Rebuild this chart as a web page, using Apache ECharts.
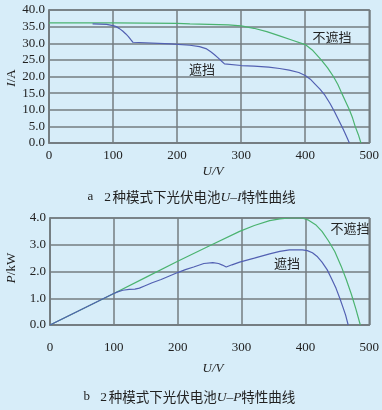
<!DOCTYPE html>
<html>
<head>
<meta charset="utf-8">
<script src="https://cdn.jsdelivr.net/npm/echarts@6/dist/echarts.min.js"></script>
<style>
  html, body { margin: 0; padding: 0; background: #d7edf9; }
  #chart { width: 382px; height: 410px; }
</style>
</head>
<body>
<div id="chart"></div>
<script>
// U-I 曲线 (不遮挡)
const uiUClear = [0, 100, 200, 220, 250, 280, 300, 320, 340, 360, 380, 400, 412, 425, 435, 444, 451, 457, 463, 469, 474, 478, 483, 487];
const uiIClear = [36.1, 36.1, 36.0, 35.8, 35.7, 35.5, 35.2, 34.5, 33.5, 32.2, 30.9, 29.6, 27.8, 25.0, 22.6, 20.0, 17.6, 15.0, 12.5, 10.0, 7.5, 5.0, 2.5, 0];
// U-I 曲线 (遮挡)
const uiUShade = [68, 90, 100, 105, 110, 115, 120, 124, 128, 131, 133, 190, 220, 235, 245, 252, 258, 264, 270, 274, 277, 300, 320, 343, 360, 375, 390, 400, 408, 415, 423, 431, 439, 446, 452, 459, 464, 469];
const uiIShade = [35.8, 35.7, 35.3, 35.0, 34.4, 33.7, 32.8, 32.0, 31.0, 30.3, 29.8, 29.8, 29.4, 29.0, 28.4, 27.5, 26.6, 25.6, 24.5, 23.8, 23.3, 23.3, 23.1, 22.8, 22.4, 21.9, 21.2, 20.3, 19.2, 17.8, 16.2, 14.3, 11.8, 9.3, 7.0, 4.3, 2.2, 0];
// U-P 曲线 (不遮挡)
const upUClear = [0, 50, 100, 150, 200, 250, 297, 320, 344, 360, 375, 395, 405, 416, 426, 436, 446, 456, 464, 472, 479, 486];
const upPClear = [0, 0.59, 1.18, 1.78, 2.38, 2.96, 3.5, 3.72, 3.9, 3.97, 4.0, 4.0, 3.92, 3.75, 3.5, 3.15, 2.75, 2.2, 1.7, 1.15, 0.6, 0];
// U-P 曲线 (遮挡)
const upUShade = [0, 99, 106, 114, 124, 133, 140, 148, 160, 174, 187, 200, 212, 225, 241, 255, 264, 270, 276, 285, 297, 320, 344, 360, 375, 395, 403, 411, 419, 426, 434, 441, 448, 454, 459, 463, 467];
const upPShade = [0, 1.17, 1.24, 1.3, 1.33, 1.34, 1.38, 1.46, 1.58, 1.7, 1.83, 1.96, 2.07, 2.17, 2.3, 2.33, 2.3, 2.24, 2.17, 2.25, 2.35, 2.5, 2.66, 2.75, 2.81, 2.81, 2.78, 2.7, 2.55, 2.35, 2.07, 1.73, 1.37, 0.99, 0.65, 0.37, 0];

const uTicks = [0, 500, 100];
const iTicks = [0, 40, 5];
const pTicks = [0, 4, 1];

const zip = (xs, ys) => xs.map((x, i) => [x, ys[i]]);

const gridColor = '#747c80';
const green = '#4bb370';
const blue = '#5260b2';
const serif = 'Liberation Serif';
const cjk = 'Noto Sans CJK SC';

function xAxis(idx, margin) {
  return {
    type: 'value', gridIndex: idx,
    min: uTicks[0], max: uTicks[1], interval: uTicks[2],
    axisLine: { show: true, lineStyle: { color: gridColor, width: 1.5 } },
    axisTick: { show: false },
    splitLine: { show: true, lineStyle: { color: gridColor, width: 1.5 } },
    axisLabel: { color: '#222', fontFamily: serif, fontSize: 13, margin: margin }
  };
}
function yAxis(idx, ticks) {
  return {
    type: 'value', gridIndex: idx,
    min: ticks[0], max: ticks[1], interval: ticks[2],
    axisLine: { show: true, lineStyle: { color: gridColor, width: 1.5 } },
    axisTick: { show: false },
    splitLine: { show: true, lineStyle: { color: gridColor, width: 1.5 } },
    axisLabel: { color: '#222', fontFamily: serif, fontSize: 13, margin: 4,
      formatter: v => v.toFixed(1) }
  };
}
function line(name, idx, data, color) {
  return {
    name: name, type: 'line', xAxisIndex: idx, yAxisIndex: idx,
    data: data, showSymbol: false, smooth: false,
    lineStyle: { color: color, width: 1.2 }
  };
}
function label(text, x, y) {
  return { type: 'text', x: x, y: y,
    style: { text: text, fill: '#222', font: '13px "' + cjk + '"', align: 'center', verticalAlign: 'middle' } };
}
function richText(text, x, y, rich, rotation) {
  return { type: 'text', x: x, y: y, rotation: rotation || 0,
    style: { text: text, rich: rich, fill: '#222', align: 'center', verticalAlign: 'middle' } };
}

const richAxis = {
  i: { fontFamily: serif, fontStyle: 'italic', fontSize: 13, fill: '#222' },
  n: { fontFamily: serif, fontSize: 13, fill: '#222' }
};
const richCap = {
  l: { fontFamily: serif, fontSize: 13, fill: '#222', width: 24 },
  n: { fontFamily: serif, fontSize: 13.5, fill: '#222', width: 10 },
  t: { fontFamily: cjk, fontSize: 13.5, fill: '#222' },
  i: { fontFamily: serif, fontStyle: 'italic', fontSize: 13.5, fill: '#222' }
};

const chart = echarts.init(document.getElementById('chart'), null, { renderer: 'canvas' });
chart.setOption({
  animation: false,
  backgroundColor: '#d7edf9',
  grid: [
    { left: 49, top: 10, width: 323, height: 133, show: true, borderColor: gridColor, borderWidth: 1.5 },
    { left: 50, top: 218, width: 322, height: 107, show: true, borderColor: gridColor, borderWidth: 1.5 }
  ],
  xAxis: [xAxis(0, 6), xAxis(1, 16)],
  yAxis: [yAxis(0, iTicks), yAxis(1, pTicks)],
  series: [
    line('不遮挡', 0, zip(uiUClear, uiIClear), green),
    line('遮挡', 0, zip(uiUShade, uiIShade), blue),
    line('不遮挡', 1, zip(upUClear, upPClear), green),
    line('遮挡', 1, zip(upUShade, upPShade), blue)
  ],
  graphic: [
    label('不遮挡', 332, 37),
    label('遮挡', 202, 69),
    label('不遮挡', 350, 228),
    label('遮挡', 287, 263),
    richText('{i|U/V}', 213, 172, richAxis),
    richText('{i|U/V}', 213, 369, richAxis),
    richText('{i|I}{n|/A}', 12, 78, richAxis, Math.PI / 2),
    richText('{i|P}{n|/kW}', 12, 268, richAxis, Math.PI / 2),
    richText('{l|a}{n|2}{t|种模式下光伏电池}{i|U–I}{t|特性曲线}', 187, 197, richCap),
    richText('{l|b}{n|2}{t|种模式下光伏电池}{i|U–P}{t|特性曲线}', 185, 397, richCap)
  ]
});
</script>
</body>
</html>
